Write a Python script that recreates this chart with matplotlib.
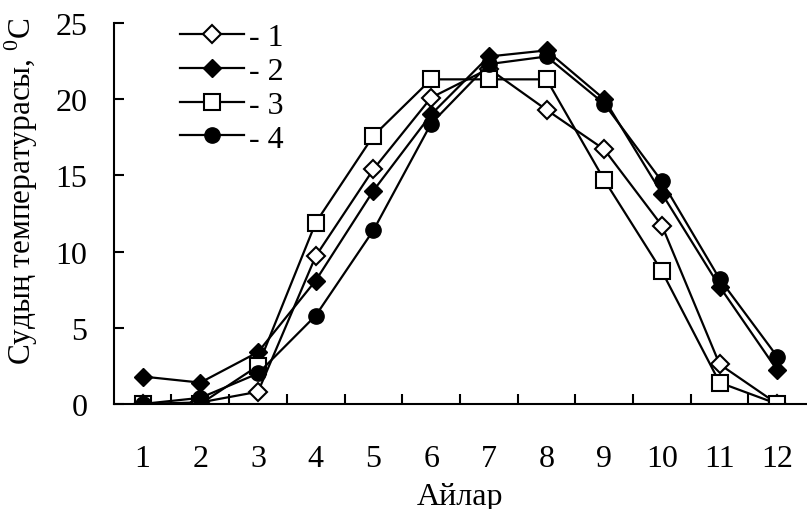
import matplotlib.pyplot as plt
import numpy as np

plt.rcParams['font.family'] = ['Liberation Serif', 'DejaVu Serif']
plt.rcParams['mathtext.fontset'] = 'custom'
plt.rcParams['mathtext.rm'] = 'Liberation Serif'

# Months and water temperature for four series
months = np.arange(1, 13)
series_1 = [0.0, 0.1, 0.8, 9.7, 15.4, 20.1, 22.0, 19.3, 16.7, 11.7, 2.6, 0.0]
series_2 = [1.8, 1.4, 3.4, 8.1, 14.0, 19.0, 22.8, 23.2, 20.0, 13.8, 7.7, 2.2]
series_3 = [0.0, 0.0, 2.5, 11.9, 17.6, 21.3, 21.3, 21.3, 14.7, 8.7, 1.4, 0.0]
series_4 = [0.0, 0.4, 2.0, 5.8, 11.4, 18.4, 22.3, 22.8, 19.7, 14.6, 8.2, 3.1]
labels = ['- 1', '- 2', '- 3', '- 4']

fig = plt.figure(figsize=(8.07, 5.10), dpi=100)
ax = fig.add_axes([0.141, 0.206, 0.858, 0.747])

ax.plot(months, series_1, color='black', lw=1.6, marker='D', ms=9,
        mfc='white', mec='black', mew=1.5, label=labels[0])
ax.plot(months, series_2, color='black', lw=1.6, marker='D', ms=9,
        mfc='black', mec='black', label=labels[1])
ax.plot(months, series_3, color='black', lw=1.6, marker='s', ms=11,
        mfc='white', mec='black', mew=1.5, label=labels[2])
ax.plot(months, series_4, color='black', lw=1.6, marker='o', ms=11,
        mfc='black', mec='black', label=labels[3])

ax.set_xlim(0.5, 12.5)
ax.set_ylim(0, 25)
ax.set_xticks(months)
ax.set_xticks(np.arange(1.5, 12.5, 1), minor=True)
ax.set_yticks(np.arange(0, 26, 5))
ax.tick_params(axis='x', which='major', length=0, pad=29, labelsize=23)
ax.tick_params(axis='x', which='minor', direction='in', length=7, width=1.5)
ax.tick_params(axis='y', direction='in', length=7, width=1.5, pad=19, labelsize=23)

for side in ['top', 'right']:
    ax.spines[side].set_visible(False)
for side in ['left', 'bottom']:
    ax.spines[side].set_linewidth(1.5)
ax.spines['bottom'].set_clip_on(False)

ax.set_xlabel('Айлар', fontsize=23, labelpad=6)
ax.set_ylabel('Судың температурасы, $^{0}$C', fontsize=22.5)
ax.yaxis.set_label_coords(-0.107, 0.56)

ax.legend(loc='upper left', bbox_to_anchor=(0.077, 1.034), frameon=False,
          fontsize=23, handlelength=2.0, handletextpad=0.15,
          labelspacing=0.14, borderaxespad=0)

fig.savefig('out.png', dpi=100)
